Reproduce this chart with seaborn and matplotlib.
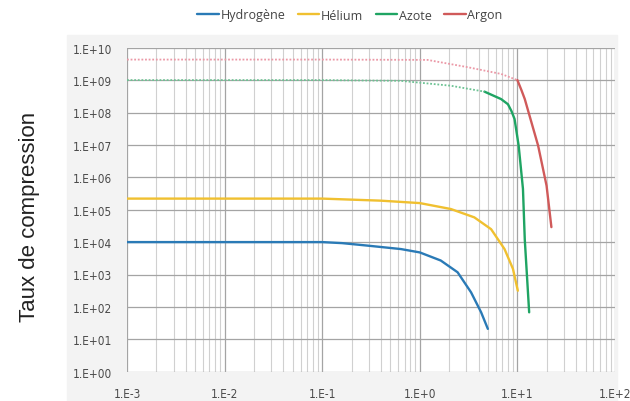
import numpy as np
import pandas as pd
import matplotlib
matplotlib.use("Agg")
import matplotlib.pyplot as plt
from matplotlib.patches import Rectangle
from matplotlib.ticker import LogLocator, NullLocator, FixedLocator
import seaborn as sns

# Valeurs (pression en abscisse, taux de compression en ordonnee)
gases = ["Hydrogène", "Hélium", "Azote", "Argon"]

x_h2 = [0.001, 0.01, 0.1, 0.16, 0.29, 0.64, 1.0, 1.64, 2.44, 3.35, 4.25, 4.98]
y_h2 = [1e4, 1e4, 1e4, 9.3e3, 7.8e3, 6.1e3, 4.8e3, 2.7e3, 1.17e3, 282, 68, 21]

x_he = [0.001, 0.01, 0.1, 0.4, 1.0, 2.08, 3.62, 5.38, 7.38, 9.0, 10.1]
y_he = [2.2e5, 2.2e5, 2.2e5, 1.9e5, 1.6e5, 1.05e5, 5.8e4, 2.5e4, 6.1e3, 1.5e3, 316]

x_n2 = [0.001, 0.01, 0.1, 0.64, 2.08, 4.6, 6.8, 8.0, 8.7, 9.35, 10.3, 11.4, 11.9, 13.2]
y_n2 = [1e9, 1e9, 1e9, 9.5e8, 6.7e8, 4.4e8, 2.6e8, 1.8e8, 1.1e8, 6.3e7, 9.5e6, 4.4e5, 1.2e4, 68]

x_ar = [0.001, 0.01, 0.1, 1.2, 3.1, 6.8, 10.0, 11.0, 11.9, 16.3, 19.9, 22.3]
y_ar = [4.3e9, 4.3e9, 4.3e9, 4.2e9, 2.5e9, 1.55e9, 1e9, 4.9e8, 2.6e8, 9.5e6, 5.5e5, 2.9e4]

# the flat high part of Azote / Argon is drawn faint and dotted in the original
solid_from = {"Hydrogène": 0.0, "Hélium": 0.0, "Azote": 4.6, "Argon": 10.0}

x_ticks = [1e-3, 1e-2, 1e-1, 1e0, 1e1, 1e2]
x_labels = ["1.E-3", "1.E-2", "1.E-1", "1.E+0", "1.E+1", "1.E+2"]
y_ticks = [10.0 ** k for k in range(11)]
y_labels = ["1.E+%02d" % k for k in range(11)]

colors = {"Hydrogène": "#2a7ab6", "Hélium": "#f0c030",
          "Azote": "#1fa463", "Argon": "#d05a5a"}
faint = {"Azote": "#6cc293", "Argon": "#eb98a6"}

rows = []
for g, xs, ys in zip(gases, [x_h2, x_he, x_n2, x_ar], [y_h2, y_he, y_n2, y_ar]):
    for x, y in zip(xs, ys):
        rows.append({"gaz": g, "pression": x, "taux": y})
df = pd.DataFrame(rows)

sns.set_style("white")
plt.rcParams["font.family"] = ["Liberation Sans", "DejaVu Sans"]

fig = plt.figure(figsize=(6.3, 4.02), dpi=100)
fig.patches.append(Rectangle((67 / 630, 0), (617 - 67) / 630, (402 - 36) / 402,
                             transform=fig.transFigure, color="#f3f3f3", zorder=-10))
ax = fig.add_axes([127 / 630, 1 - 372.7 / 402, (615 - 127) / 630, (372.7 - 48.7) / 402])
ax.set_zorder(1)
ax.set_facecolor("white")

# solid parts
solid = df[df["pression"] >= df["gaz"].map(solid_from)]
sns.lineplot(data=solid, x="pression", y="taux", hue="gaz", hue_order=gases,
             palette=colors, estimator=None, sort=True, linewidth=1.7, ax=ax)

# faint dotted parts
for g in ["Azote", "Argon"]:
    part = df[(df["gaz"] == g) & (df["pression"] <= solid_from[g])]
    sns.lineplot(data=part, x="pression", y="taux", color=faint[g], estimator=None,
                 linewidth=1.3, linestyle=(0, (1, 1)), legend=False, ax=ax)

ax.set_xscale("log")
ax.set_yscale("log")
ax.set_xlim(1e-3, 1e2)
ax.set_ylim(1e0, 1e10)

ax.xaxis.set_major_locator(FixedLocator(x_ticks))
ax.set_xticklabels(x_labels)
ax.xaxis.set_minor_locator(LogLocator(base=10, subs=np.arange(2, 10)))
ax.yaxis.set_major_locator(FixedLocator(y_ticks))
ax.set_yticklabels(y_labels)
ax.yaxis.set_minor_locator(NullLocator())

ax.grid(which="major", color="#a4a4a4", linewidth=0.9)
ax.grid(which="minor", axis="x", color="#d0d0d0", linewidth=0.8)
ax.set_axisbelow(True)
for s in ax.spines.values():
    s.set_visible(False)

ax.tick_params(which="major", length=4, color="#b0b0b0", labelsize=8.5,
               labelcolor="#4a4a4a", pad=7)
ax.tick_params(which="minor", length=0)
for lab in ax.get_xticklabels() + ax.get_yticklabels():
    lab.set_fontstretch("condensed")
    lab.set_family(["DejaVu Sans"])

ax.set_xlabel("")
ax.set_ylabel("")
fig.text(30 / 630, 1 - 217 / 402, "Taux de compression", rotation=90,
         ha="center", va="center", fontsize=16, color="#222222")

handles, labels = ax.get_legend_handles_labels()
if ax.get_legend() is not None:
    ax.get_legend().remove()
fig.legend(handles, labels, loc="center", bbox_to_anchor=(350 / 630, 1 - 16 / 402),
           ncol=4, frameon=False, handlelength=1.7, handletextpad=0.15,
           columnspacing=1.0, labelcolor="#444444",
           prop={"family": ["Open Sans", "DejaVu Sans"], "size": 9})

fig.savefig("out.png", dpi=100)
